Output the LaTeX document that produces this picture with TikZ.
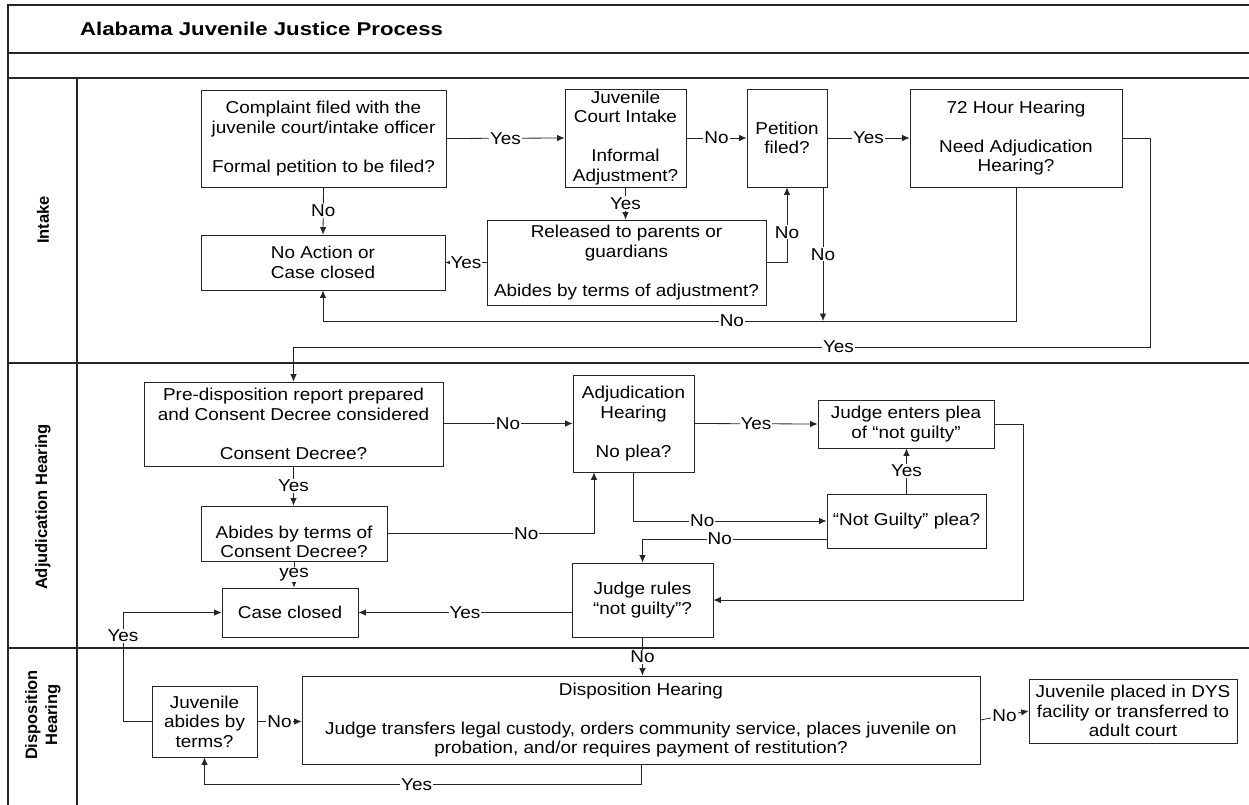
\documentclass[tikz,border=0pt]{standalone}
\usepackage{fontspec}
\setmainfont{Liberation Sans}[FakeStretch=1.1]
\newfontfamily\lanefont{Liberation Sans}
\newfontfamily\titlefont{Liberation Sans}[FakeStretch=1.2]
\usetikzlibrary{arrows.meta,calc}
\tikzset{
  box/.style={draw=black!85, line width=0.8pt, align=center, inner sep=0pt, font=\fontsize{17.2}{19.5}\selectfont},
  lbl/.style={fill=white, inner sep=1pt, font=\fontsize{17.2}{19.5}\selectfont},
  conn/.style={line width=0.8pt, draw=black!85},
  arr/.style={conn, -{Latex[length=7.5pt,width=6.5pt]}},
  lane/.style={line width=1.5pt, draw=black!85},
  lanelbl/.style={rotate=90, align=center, font=\lanefont\bfseries\fontsize{16.5}{20}\selectfont}
}
\begin{document}
\begin{tikzpicture}[x=1pt,y=-1pt]
\useasboundingbox (0,0) rectangle (1249,805);
% frame
\draw[lane] (8,805) -- (8,5) -- (1249,5);
\draw[lane] (8,53) -- (1249,53);
\draw[lane] (8,78) -- (1249,78);
\draw[lane] (8,363) -- (1249,363);
\draw[lane] (8,648) -- (1249,648);
\draw[lane] (77,78) -- (77,805);
\node[anchor=west, inner sep=0pt, font=\titlefont\bfseries\fontsize{18.5}{22}\selectfont] (title) at (80,29) {Alabama Juvenile Justice Process};
\node[lanelbl] (l1) at (43,220) {Intake};
\node[lanelbl] (l2) at (43,507) {Adjudication Hearing};
\node[lanelbl] (l3) at (43,715) {Disposition\\Hearing};

% Intake boxes
\node[box, minimum width=245, minimum height=97] (comp) at (323.5,138.5) {Complaint filed with the\\juvenile court/intake officer\\[19.5pt]Formal petition to be filed?};
\node[box, minimum width=244, minimum height=55] (noact) at (323,262.5) {No Action or\\Case closed};
\node[box, minimum width=121, minimum height=98] (jci) at (625.5,138) {Juvenile\\Court Intake\\[19.5pt]Informal\\Adjustment?};
\node[box, minimum width=80, minimum height=98] (pet) at (787,138) {Petition\\filed?};
\node[box, minimum width=279, minimum height=85] (rel) at (626.5,262.5) {Released to parents or\\guardians\\[19.5pt]Abides by terms of adjustment?};
\node[box, minimum width=212, minimum height=98] (h72) at (1016,138) {72 Hour Hearing\\[19.5pt]Need Adjudication\\Hearing?};

% Adjudication boxes
\node[box, minimum width=299, minimum height=84] (pre) at (293.5,424) {Pre-disposition report prepared\\and Consent Decree considered\\[19.5pt]Consent Decree?};
\node[box, minimum width=186, minimum height=55] (abcd) at (294,533.5) {};
\node[font=\fontsize{17.2}{19.5}\selectfont, align=center, inner sep=0pt] (abcdt) at (294,542) {Abides by terms of\\Consent Decree?};
\node[box, minimum width=136, minimum height=49] (cc) at (290,612.5) {Case closed};
\node[box, minimum width=121, minimum height=97] (adj) at (633.5,423.5) {Adjudication\\Hearing\\[19.5pt]No plea?};
\node[box, minimum width=176, minimum height=48] (jep) at (906,424) {Judge enters plea\\of “not guilty”};
\node[box, minimum width=159, minimum height=54] (ngp) at (906.5,521) {“Not Guilty” plea?};
\node[box, minimum width=141, minimum height=74] (jr) at (642.5,600) {Judge rules\\“not guilty”?};

% Disposition boxes
\node[box, minimum width=105, minimum height=71] (jab) at (204.5,721.5) {Juvenile\\abides by\\terms?};
\node[box, minimum width=678, minimum height=88] (dh) at (641,720) {Disposition Hearing\\[19.5pt]Judge transfers legal custody, orders community service, places juvenile on\\probation, and/or requires payment of restitution?};
\node[box, minimum width=208, minimum height=64] (dys) at (1133,711) {Juvenile placed in DYS\\facility or transferred to\\adult court};

% helper coordinates
\coordinate (pj) at (823,321);
\coordinate (yx) at (123,0);

% Intake connectors
\draw[arr] (comp.east) -- node[lbl]{Yes} (jci.west);
\draw[arr] (jci.east) -- node[lbl]{No} (pet.west);
\draw[arr] (pet.east) -- node[lbl]{Yes} (h72.west);
\draw[arr] (comp.south) -- node[lbl]{No} (noact.north);
\draw[arr] (jci.south) -- node[lbl]{Yes} (jci.south |- rel.north);
\draw[arr] (rel.west) -- node[lbl]{Yes} (noact.east);
\draw[arr] (rel.east) -| node[lbl, pos=0.70]{No} (pet.south);
\draw[arr] (pet.south -| pj) -- node[lbl]{No} (pj);
\draw[arr] (h72.south) -- (h72.south |- pj) -- node[lbl, pos=0.41]{No} (noact.south |- pj) -- (noact.south);
\draw[arr] (h72.east) -- ++(28,0) -- ++(0,209) -- node[lbl, pos=0.364]{Yes} (pre.north |- 0,347) -- (pre.north);

% Adjudication connectors
\draw[arr] (pre.east |- adj.west) -- node[lbl]{No} (adj.west);
\draw[arr] (adj.east) -- node[lbl]{Yes} (jep.west);
\draw[arr] (pre.south) -- node[lbl]{Yes} (pre.south |- abcd.north);
\draw[arr] (abcd.east) -| node[lbl, pos=0.336]{No} ([xshift=-39.5pt]adj.south);
\draw[arr] (abcd.south) -- node[lbl]{yes} (abcd.south |- cc.north);
\draw[arr] (adj.south) |- node[lbl, pos=0.678]{No} (ngp.west);
\draw[arr] ([yshift=-18pt]ngp.west) -| node[lbl, pos=0.29]{No} (jr.north);
\draw[arr] (ngp.north) -- node[lbl]{Yes} (ngp.north |- jep.south);
\draw[arr] (jep.east) -- ++(29,0) |- (jr.east);
\draw[arr] (jr.west |- cc.east) -- node[lbl]{Yes} (cc.east);
\draw[arr] (jr.south) -- node[lbl]{No} (jr.south |- dh.north);
\draw[arr] (jab.west) -- (jab.west -| yx) |- node[lbl, pos=0.392]{Yes} (cc.west);

% Disposition connectors
\draw[arr] (jab.east) -- node[lbl]{No} (dh.west |- jab.east);
\draw[arr] (dh.east) -- node[lbl]{No} (dys.west);
\draw[arr] (dh.south) -- ++(0,20) -| node[lbl, pos=0.257]{Yes} (jab.south);
\end{tikzpicture}
\end{document}
